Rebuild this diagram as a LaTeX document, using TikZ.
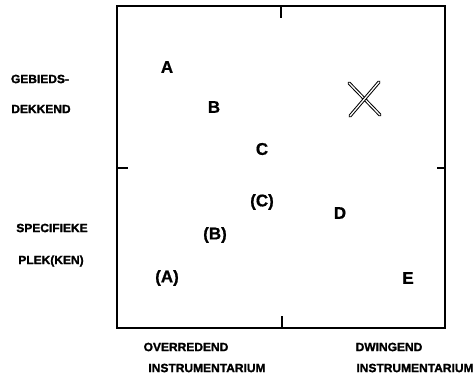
\documentclass[tikz,border=0pt]{standalone}
\usepackage{fontspec}
\setmainfont{Liberation Sans}
\newfontfamily\heavyfont[FakeBold=1.5]{Liberation Sans Bold}
\newfontfamily\bigfont[FakeBold=0.8]{Liberation Sans Bold}
\begin{document}
\begin{tikzpicture}[x=1pt,y=-1pt,
  pt/.style={font=\fontsize{17}{17}\bigfont,inner sep=0pt},
  lab/.style={font=\fontsize{12}{12}\heavyfont,inner sep=0pt},
  frame/.style={line width=1.8pt},
  tick/.style={line width=1.2pt},
  cross/.style={line width=1pt,double,double distance=1.3pt,line cap=round}]
\useasboundingbox (0,0) rectangle (473,377);
\draw[frame] (117,6) rectangle (445,328);
\draw[tick] (281,6) -- (281,18);
\draw[tick] (282,328) -- (282,316);
\draw[tick] (117,168) -- (128,168);
\draw[tick] (445,168) -- (437,168);
\node[pt] (a) at (167,67) {A};
\node[pt] (b) at (214,107) {B};
\node[pt] (c) at (262,149) {C};
\node[pt] (pc) at (262,202) {(C)};
\node[pt] (d) at (340,213) {D};
\node[pt] (pb) at (215,235) {(B)};
\node[pt] (pa) at (167,278) {(A)};
\node[pt] (e) at (408,278) {E};
\draw[cross] (349,83) -- (380,115);
\draw[cross] (379,82) -- (350,116);
\node[lab] (l1) at (40,79) {GEBIEDS-};
\node[lab] (l2) at (41,109) {DEKKEND};
\node[lab] (l3) at (52,228) {SPECIFIEKE};
\node[lab] (l4) at (51,261) {PLEK(KEN)};
\node[lab] (b1) at (186,347) {OVERREDEND};
\node[lab] (b2) at (207,368) {INSTRUMENTARIUM};
\node[lab] (b3) at (389,347) {DWINGEND};
\node[lab] (b4) at (415,368) {INSTRUMENTARIUM};
\end{tikzpicture}
\end{document}
